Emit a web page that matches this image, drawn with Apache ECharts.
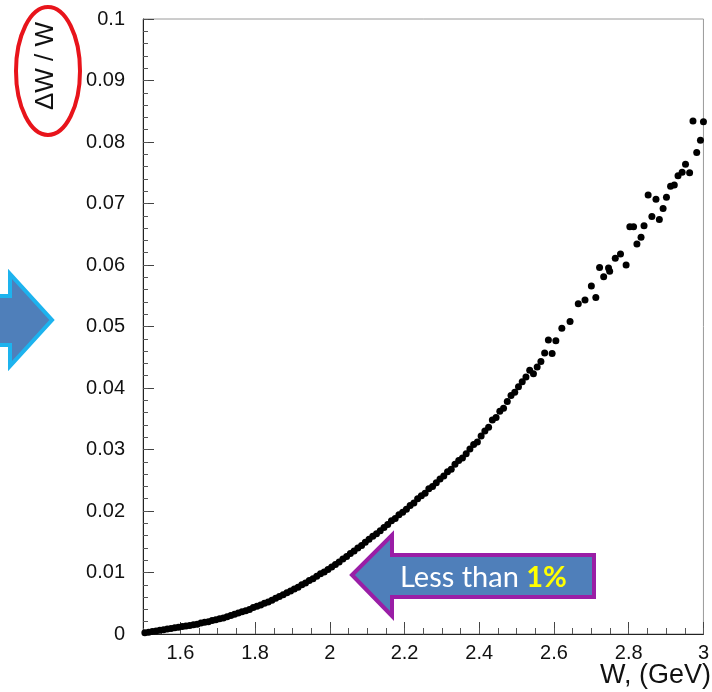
<!DOCTYPE html>
<html>
<head>
<meta charset="utf-8">
<script src="https://cdn.jsdelivr.net/npm/echarts@6/dist/echarts.min.js"></script>
<style>
html,body{margin:0;padding:0;background:#fff;}
#c{width:712px;height:692px;}
</style>
</head>
<body>
<div id="c"></div>
<script>
// ---- data ----
const wValues = [
1.505,1.515,1.525,1.535,1.545,1.555,1.565,1.575,1.585,1.595,
1.605,1.615,1.625,1.635,1.645,1.655,1.665,1.675,1.685,1.695,
1.705,1.715,1.725,1.735,1.745,1.755,1.765,1.775,1.785,1.795,
1.805,1.815,1.825,1.835,1.845,1.855,1.865,1.875,1.885,1.895,
1.905,1.915,1.925,1.935,1.945,1.955,1.965,1.975,1.985,1.995,
2.005,2.015,2.025,2.035,2.045,2.055,2.065,2.075,2.085,2.095,
2.105,2.115,2.125,2.135,2.145,2.155,2.165,2.175,2.185,2.195,
2.205,2.215,2.225,2.235,2.245,2.255,2.265,2.275,2.285,2.295,
2.305,2.315,2.325,2.335,2.345,2.355,2.365,2.375,2.385,2.395,
2.405,2.415,2.425,2.435,2.445,2.455,2.465,2.475,2.485,2.495,
2.505,2.515,2.525,2.535,2.545,2.555,2.565,2.575,2.585,2.595,
2.605,
2.621,2.643,2.665,2.683,2.700,2.712,2.722,2.733,2.746,2.749,
2.764,2.778,2.793,2.803,2.813,2.822,2.833,2.841,2.852,2.862,
2.873,2.882,2.892,2.901,2.912,2.922,2.932,2.943,2.952,2.963,
2.972,2.982,2.992,3.000
];
const dwOverW = [
0.0002,0.0003,0.0004,0.0005,0.0006,0.0007,0.0008,0.0009,0.0010,0.0011,
0.0012,0.0013,0.0014,0.0015,0.0016,0.0018,0.0019,0.0020,0.0022,0.0023,
0.0025,0.0026,0.0028,0.0030,0.0032,0.0034,0.0036,0.0038,0.0040,0.0043,
0.0045,0.0047,0.0050,0.0052,0.0055,0.0058,0.0061,0.0064,0.0067,0.0070,
0.0073,0.0076,0.0080,0.0083,0.0087,0.0090,0.0094,0.0098,0.0101,0.0105,
0.0109,0.0113,0.0117,0.0122,0.0126,0.0131,0.0135,0.0140,0.0144,0.0149,
0.0154,0.0159,0.0163,0.0168,0.0173,0.0178,0.0184,0.0188,0.0194,0.0198,
0.0203,0.0209,0.0213,0.0220,0.0225,0.0229,0.0236,0.0240,0.0246,0.0252,
0.0257,0.0264,0.0268,0.0276,0.0282,0.0286,0.0293,0.0301,0.0308,0.0312,
0.0322,0.0330,0.0336,0.0348,0.0352,0.0362,0.0367,0.0378,0.0388,0.0393,
0.0402,0.0410,0.0418,0.0429,0.0423,0.0434,0.0443,0.0457,0.0478,0.0456,
0.0477,
0.0497,0.0508,0.0537,0.0543,0.0566,0.0547,0.0596,0.0581,0.0595,0.0590,
0.0611,0.0618,0.0600,0.0662,0.0662,0.0634,0.0645,0.0664,0.0714,0.0679,
0.0707,0.0674,0.0692,0.0710,0.0728,0.0730,0.0745,0.0751,0.0764,0.0750,
0.0834,0.0783,0.0803,0.0833
];
const xTickLabels = [1.6, 1.8, 2.0, 2.2, 2.4, 2.6, 2.8, 3.0];
const xTitle = 'W, (GeV)';
const yTitle = '\u0394W / W';
const noteText = 'Less than ';
const noteValue = '1%';

const points = wValues.map((w, i) => [w, dwOverW[i]]);
const FONT = '"Liberation Sans", Arial, sans-serif';

const chart = echarts.init(document.getElementById('c'), null, {renderer: 'canvas'});
chart.setOption({
  animation: false,
  backgroundColor: '#fff',
  grid: {left: 143, right: 2, top: 19, bottom: 58, show: true, borderColor: '#9a9a9a', borderWidth: 1},
  xAxis: [
    {
      type: 'value', min: 1.5, max: 3.0, position: 'bottom',
      axisLine: {show: true, onZero: false, lineStyle: {color: '#222', width: 1}},
      axisTick: {show: true, inside: true, length: 12, customValues: xTickLabels, lineStyle: {color: '#444'}},
      axisLabel: {show: true, customValues: xTickLabels, margin: 9, color: '#111', fontSize: 20, fontFamily: FONT,
        formatter: v => String(Math.round(v * 10) / 10)},
      splitLine: {show: false}
    },
    {
      type: 'value', min: 1.5, max: 3.0, interval: 0.05, position: 'bottom', offset: 0,
      axisLine: {show: false},
      axisTick: {show: true, inside: true, length: 6, lineStyle: {color: '#555'}},
      axisLabel: {show: false},
      splitLine: {show: false}
    }
  ],
  yAxis: [
    {
      type: 'value', min: 0, max: 0.1, interval: 0.01, position: 'left',
      axisLine: {show: true, onZero: false, lineStyle: {color: '#222', width: 1}},
      axisTick: {show: true, inside: true, length: 11, lineStyle: {color: '#444'}},
      axisLabel: {show: true, margin: 18, color: '#111', fontSize: 20, fontFamily: FONT,
        formatter: v => String(Math.round(v * 100) / 100)},
      splitLine: {show: false}
    },
    {
      type: 'value', min: 0, max: 0.1, interval: 0.002, position: 'left', offset: 0,
      axisLine: {show: false},
      axisTick: {show: true, inside: true, length: 5, lineStyle: {color: '#555'}},
      axisLabel: {show: false},
      splitLine: {show: false}
    }
  ],
  series: [{
    type: 'scatter', xAxisIndex: 0, yAxisIndex: 0,
    data: points, symbol: 'circle', symbolSize: 7,
    itemStyle: {color: '#000', opacity: 1},
    clip: false
  }],
  graphic: [
    // y-axis title with red ellipse
    {type: 'text', x: 46, y: 66, rotation: Math.PI / 2,
      style: {text: yTitle, font: '26px ' + FONT, fill: '#111', align: 'center', verticalAlign: 'middle'}},
    {type: 'ellipse', shape: {cx: 48, cy: 71, rx: 32, ry: 64},
      style: {fill: 'none', stroke: '#e8141b', lineWidth: 4}},
    // x-axis title
    {type: 'text', x: 711, y: 676,
      style: {text: xTitle, font: '27px ' + FONT, fill: '#111', align: 'right', verticalAlign: 'middle'}},
    // left blue arrow (partial)
    {type: 'polygon', shape: {points: [[-10, 296], [10, 296], [10, 274], [52, 320], [10, 366], [10, 345], [-10, 345]]},
      style: {fill: '#4f7fba', stroke: '#1db3ee', lineWidth: 4, lineJoin: 'miter'}},
    // purple-outlined arrow
    {type: 'polygon', shape: {points: [[352, 575], [392, 535], [392, 555], [594, 555], [594, 597], [392, 597], [392, 616]]},
      style: {fill: '#4f7fba', stroke: '#9a1ea6', lineWidth: 4, lineJoin: 'miter'}},
    {type: 'text', x: 400, y: 578,
      style: {
        text: '{a|' + noteText + '}{b|' + noteValue + '}',
        verticalAlign: 'middle', align: 'left',
        rich: {
          a: {fontFamily: 'Lato, "Open Sans", sans-serif', fontSize: 29, fill: '#fff', color: '#fff'},
          b: {fontFamily: 'Lato, "Open Sans", sans-serif', fontSize: 29, fontWeight: 'bold', fill: '#ffff00', color: '#ffff00'}
        }
      }}
  ]
});
</script>
</body>
</html>
